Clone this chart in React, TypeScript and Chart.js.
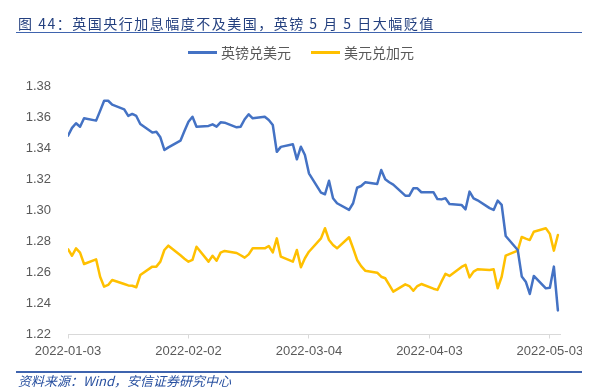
import React, { useEffect, useRef } from "react";
import { Chart, registerables } from "chart.js";

Chart.register(...registerables);

const titleText = "图 44：英国央行加息幅度不及美国，英镑 5 月 5 日大幅贬值";
const sourceText = "资料来源：Wind，安信证券研究中心";
const seriesNames = ["英镑兑美元", "美元兑加元"];
const seriesColors = ["#4472C4", "#FFC000"];

const dates = [
  "2022-01-03", "2022-01-04", "2022-01-05", "2022-01-06", "2022-01-07",
  "2022-01-10", "2022-01-11", "2022-01-12", "2022-01-13", "2022-01-14",
  "2022-01-17", "2022-01-18", "2022-01-19", "2022-01-20", "2022-01-21",
  "2022-01-24", "2022-01-25", "2022-01-26", "2022-01-27", "2022-01-28",
  "2022-01-31", "2022-02-01", "2022-02-02", "2022-02-03", "2022-02-04",
  "2022-02-07", "2022-02-08", "2022-02-09", "2022-02-10", "2022-02-11",
  "2022-02-14", "2022-02-15", "2022-02-16", "2022-02-17", "2022-02-18",
  "2022-02-21", "2022-02-22", "2022-02-23", "2022-02-24", "2022-02-25",
  "2022-02-28", "2022-03-01", "2022-03-02", "2022-03-03", "2022-03-04",
  "2022-03-07", "2022-03-08", "2022-03-09", "2022-03-10", "2022-03-11",
  "2022-03-14", "2022-03-15", "2022-03-16", "2022-03-17", "2022-03-18",
  "2022-03-21", "2022-03-22", "2022-03-23", "2022-03-24", "2022-03-25",
  "2022-03-28", "2022-03-29", "2022-03-30", "2022-03-31", "2022-04-01",
  "2022-04-04", "2022-04-05", "2022-04-06", "2022-04-07", "2022-04-08",
  "2022-04-11", "2022-04-12", "2022-04-13", "2022-04-14", "2022-04-15",
  "2022-04-18", "2022-04-19", "2022-04-20", "2022-04-21", "2022-04-22",
  "2022-04-25", "2022-04-26", "2022-04-27", "2022-04-28", "2022-04-29",
  "2022-05-02", "2022-05-03", "2022-05-04", "2022-05-05",
];

const gbpUsd = [
  1.348, 1.353, 1.356, 1.3538, 1.3592,
  1.3577, 1.364, 1.3705, 1.3705, 1.368,
  1.365, 1.3607, 1.362, 1.3607, 1.3555,
  1.35, 1.3506, 1.347, 1.3388, 1.3405,
  1.3448, 1.351, 1.357, 1.3602, 1.3538,
  1.3543, 1.3553, 1.3538, 1.3566, 1.3564,
  1.3534, 1.3538, 1.3586, 1.3618, 1.3592,
  1.3602, 1.3581, 1.3549, 1.3376, 1.3408,
  1.3425, 1.3328, 1.3409, 1.3356, 1.3238,
  1.3113, 1.3103, 1.319, 1.3077, 1.3045,
  1.3002, 1.3045, 1.3145, 1.3156, 1.318,
  1.3169, 1.3259, 1.3199, 1.318, 1.3165,
  1.3094, 1.3094, 1.3141, 1.3141, 1.3116,
  1.3116, 1.3072, 1.307, 1.3077, 1.304,
  1.3034, 1.3006, 1.312, 1.3077, 1.3064,
  1.3014, 1.3002, 1.3062, 1.3034, 1.2834,
  1.2744, 1.2574, 1.254, 1.2461, 1.2577,
  1.2497, 1.2501, 1.2637, 1.2355,
];

const usdCad = [
  1.2749, 1.2707, 1.2755, 1.2727, 1.2654,
  1.2684, 1.2572, 1.2508, 1.2519, 1.2551,
  1.2525, 1.2516, 1.2514, 1.2504, 1.2583,
  1.2637, 1.2637, 1.2669, 1.2744, 1.2772,
  1.271, 1.2688, 1.2669, 1.268, 1.2765,
  1.2669, 1.2707, 1.2675, 1.2727, 1.2738,
  1.2725, 1.271, 1.2695, 1.2716, 1.2755,
  1.2755, 1.277, 1.2729, 1.2819, 1.2701,
  1.2669, 1.2744, 1.2633, 1.2691, 1.2733,
  1.2819, 1.2884, 1.2808, 1.2776, 1.2755,
  1.2826, 1.2755, 1.268, 1.264, 1.2611,
  1.2598, 1.2572, 1.2562, 1.252, 1.2476,
  1.2523, 1.2512, 1.2482, 1.2512, 1.2525,
  1.2495, 1.2487, 1.254, 1.259, 1.2577,
  1.2635, 1.2648, 1.2568, 1.2605, 1.262,
  1.2615, 1.262, 1.2498, 1.2572, 1.2708,
  1.274, 1.2828, 1.2817, 1.2808, 1.2862,
  1.2884, 1.2848, 1.274, 1.2841,
];

const xTickDates = ["2022-01-03", "2022-02-02", "2022-03-04", "2022-04-03", "2022-05-03"];
const xAxisEndDate = "2022-05-06";
const yMin = 1.22;
const yMax = 1.38;
const yStep = 0.02;

const DAY = 86400000;
const dayOf = (d: string) => (Date.parse(d) - Date.parse(dates[0])) / DAY;

export default function App() {
  const canvasRef = useRef<HTMLCanvasElement | null>(null);

  useEffect(() => {
    const canvas = canvasRef.current;
    if (!canvas) return;
    const series = [gbpUsd, usdCad];
    const chart = new Chart(canvas, {
      type: "line",
      data: {
        datasets: series.map((vals, i) => ({
          label: seriesNames[i],
          data: vals.map((v, j) => ({ x: dayOf(dates[j]), y: v })),
          borderColor: seriesColors[i],
          backgroundColor: seriesColors[i],
          borderWidth: 2.5,
          pointRadius: 0,
          tension: 0,
          borderJoinStyle: "round" as const,
          borderCapStyle: "round" as const,
        })),
      },
      options: {
        responsive: false,
        animation: false,
        devicePixelRatio: 1,
        layout: { padding: { top: 86, right: 49.3, left: 0, bottom: 0 } },
        plugins: {
          legend: { display: false },
          tooltip: { enabled: false },
          title: { display: false },
        },
        scales: {
          x: {
            type: "linear",
            min: 0,
            max: dayOf(xAxisEndDate) - 0.3,
            afterBuildTicks: (scale: any) => {
              scale.ticks = xTickDates.map((d) => ({ value: dayOf(d) }));
            },
            afterFit: (scale: any) => {
              scale.height = 53.5;
            },
            ticks: {
              autoSkip: false,
              maxRotation: 0,
              minRotation: 0,
              padding: 5,
              color: "#595959",
              font: { family: "'Liberation Sans', Arial, sans-serif", size: 13 },
              callback: (_v: any, i: number) => xTickDates[i],
            },
            grid: {
              display: true,
              drawOnChartArea: false,
              drawTicks: true,
              tickLength: 4,
              color: "#D9D9D9",
            },
            border: { display: true, color: "#D9D9D9", width: 1 },
          },
          y: {
            min: yMin,
            max: yMax,
            afterFit: (scale: any) => {
              scale.width = 68;
            },
            ticks: {
              stepSize: yStep,
              padding: 17,
              color: "#595959",
              font: { family: "'Liberation Sans', Arial, sans-serif", size: 13 },
              callback: (v: any) => Number(v).toFixed(2),
            },
            grid: { display: false, drawTicks: false },
            border: { display: false },
          },
        },
      },
    });
    return () => chart.destroy();
  }, []);

  const legendText: React.CSSProperties = {
    position: "absolute",
    top: 43,
    height: 18,
    lineHeight: "18px",
    fontSize: 14,
    color: "#595959",
    fontFamily: "'Noto Sans CJK SC', sans-serif",
    whiteSpace: "nowrap",
  };

  return (
    <div
      style={{
        position: "absolute",
        left: 0,
        top: 0,
        width: 582,
        height: 388,
        overflow: "hidden",
        background: "#fff",
      }}
    >
      <canvas ref={canvasRef} width={610} height={388} style={{ position: "absolute", left: 0, top: 0 }} />
      <div
        style={{
          position: "absolute",
          left: 18,
          top: 13,
          height: 20,
          lineHeight: "20px",
          fontSize: 14,
          letterSpacing: 1.5,
          color: "#24407F",
          fontFamily: "'Noto Sans CJK SC', sans-serif",
          whiteSpace: "nowrap",
        }}
      >
        {titleText}
      </div>
      <div style={{ position: "absolute", left: 16, top: 31.5, width: 566, height: 1.5, background: "#3F64AE" }} />
      <div style={{ position: "absolute", left: 188, top: 51, width: 29, height: 3, background: seriesColors[0] }} />
      <div style={{ ...legendText, left: 221 }}>{seriesNames[0]}</div>
      <div style={{ position: "absolute", left: 311, top: 51, width: 29, height: 3, background: seriesColors[1] }} />
      <div style={{ ...legendText, left: 344 }}>{seriesNames[1]}</div>
      <div style={{ position: "absolute", left: 16, top: 371, width: 566, height: 1.5, background: "#3F64AE" }} />
      <div
        style={{
          position: "absolute",
          left: 18,
          top: 373,
          height: 16,
          lineHeight: "16px",
          fontSize: 13,
          fontStyle: "italic",
          color: "#2850A0",
          fontFamily: "'Noto Sans CJK SC', sans-serif",
          whiteSpace: "nowrap",
        }}
      >
        {sourceText}
      </div>
    </div>
  );
}
